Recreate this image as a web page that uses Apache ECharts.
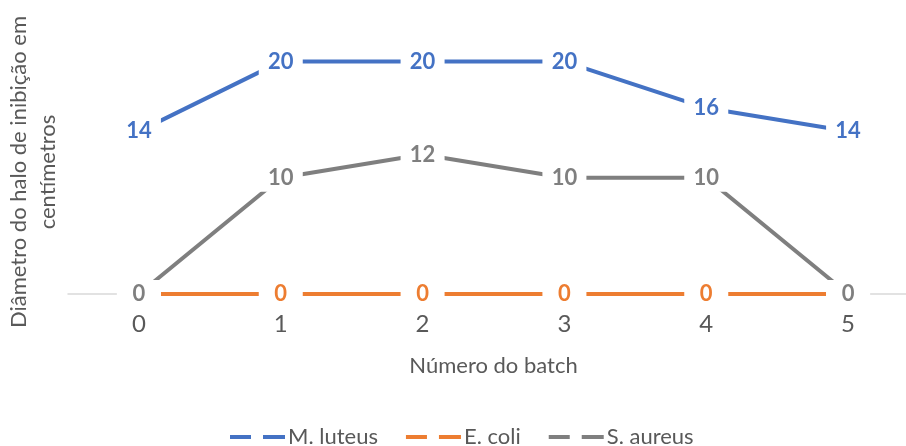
<!DOCTYPE html>
<html>
<head>
<meta charset="utf-8">
<script src="https://cdn.jsdelivr.net/npm/echarts@6/dist/echarts.min.js"></script>
<style>
  html, body { margin: 0; padding: 0; background: #fff; }
  #chart { width: 906px; height: 446px; }
</style>
</head>
<body>
<div id="chart"></div>
<script>
// Batch numbers along the x axis
const batches = ['0', '1', '2', '3', '4', '5'];

// Inhibition halo diameter per batch (cm)
const mLuteus = [14, 20, 20, 20, 16, 14];
const eColi = [0, 0, 0, 0, 0, 0];
const sAureus = [0, 10, 12, 10, 10, 0];

const seriesNames = ['M. luteus', 'E. coli', 'S. aureus'];
const seriesColors = ['#4472C4', '#ED7D31', '#7F7F7F'];

const FONT = 'Lato, "Noto Sans", sans-serif';
const TEXT_GRAY = '#595959';

function lineSeries(name, values, color) {
  return {
    name: name,
    type: 'line',
    data: values,
    symbol: 'circle',
    symbolSize: 1,
    itemStyle: { color: color },
    lineStyle: { color: color, width: 4 },
    label: {
      show: true,
      position: 'inside',
      formatter: '{c}',
      color: color,
      fontFamily: FONT,
      fontWeight: 'bold',
      fontSize: 22,
      backgroundColor: '#ffffff',
      width: 44,
      height: 28,
      lineHeight: 28,
      align: 'center',
      verticalAlign: 'middle'
    },
    emphasis: { disabled: true },
    animation: false
  };
}

// Legend icon: two short dashes
const dashIcon = 'path://M0,0h21v4h-21z M33,0h22v4h-22z';

const chart = echarts.init(document.getElementById('chart'), null, { renderer: 'canvas' });
chart.setOption({
  backgroundColor: '#ffffff',
  animation: false,
  grid: {
    left: 68,
    right: -13,
    top: 50,
    bottom: 152,
    containLabel: false,
    outerBoundsMode: 'none'
  },
  legend: {
    bottom: -7,
    left: 225,
    icon: dashIcon,
    itemWidth: 55,
    itemHeight: 4,
    itemGap: 28,
    textStyle: { color: TEXT_GRAY, fontFamily: FONT, fontSize: 22, padding: [0, 0, 0, -2] },
    data: seriesNames
  },
  xAxis: {
    type: 'category',
    data: batches,
    boundaryGap: true,
    name: 'Número do batch',
    nameLocation: 'middle',
    nameGap: 61,
    nameTextStyle: { color: TEXT_GRAY, fontFamily: FONT, fontSize: 22 },
    axisLine: { show: true, lineStyle: { color: '#D9D9D9', width: 1.5 } },
    axisTick: { show: false },
    axisLabel: { color: TEXT_GRAY, fontFamily: FONT, fontSize: 24, margin: 18 },
    splitLine: { show: false }
  },
  yAxis: {
    type: 'value',
    min: 0,
    max: 21,
    name: 'Diâmetro do halo de inibição em\ncentímetros',
    nameLocation: 'middle',
    nameRotate: 90,
    nameGap: 6,
    nameTextStyle: { color: TEXT_GRAY, fontFamily: FONT, fontSize: 22, lineHeight: 29, align: 'center' },
    axisLine: { show: false },
    axisTick: { show: false },
    axisLabel: { show: false },
    splitLine: { show: false }
  },
  series: [
    lineSeries(seriesNames[0], mLuteus, seriesColors[0]),
    lineSeries(seriesNames[1], eColi, seriesColors[1]),
    lineSeries(seriesNames[2], sAureus, seriesColors[2])
  ]
});
</script>
</body>
</html>
